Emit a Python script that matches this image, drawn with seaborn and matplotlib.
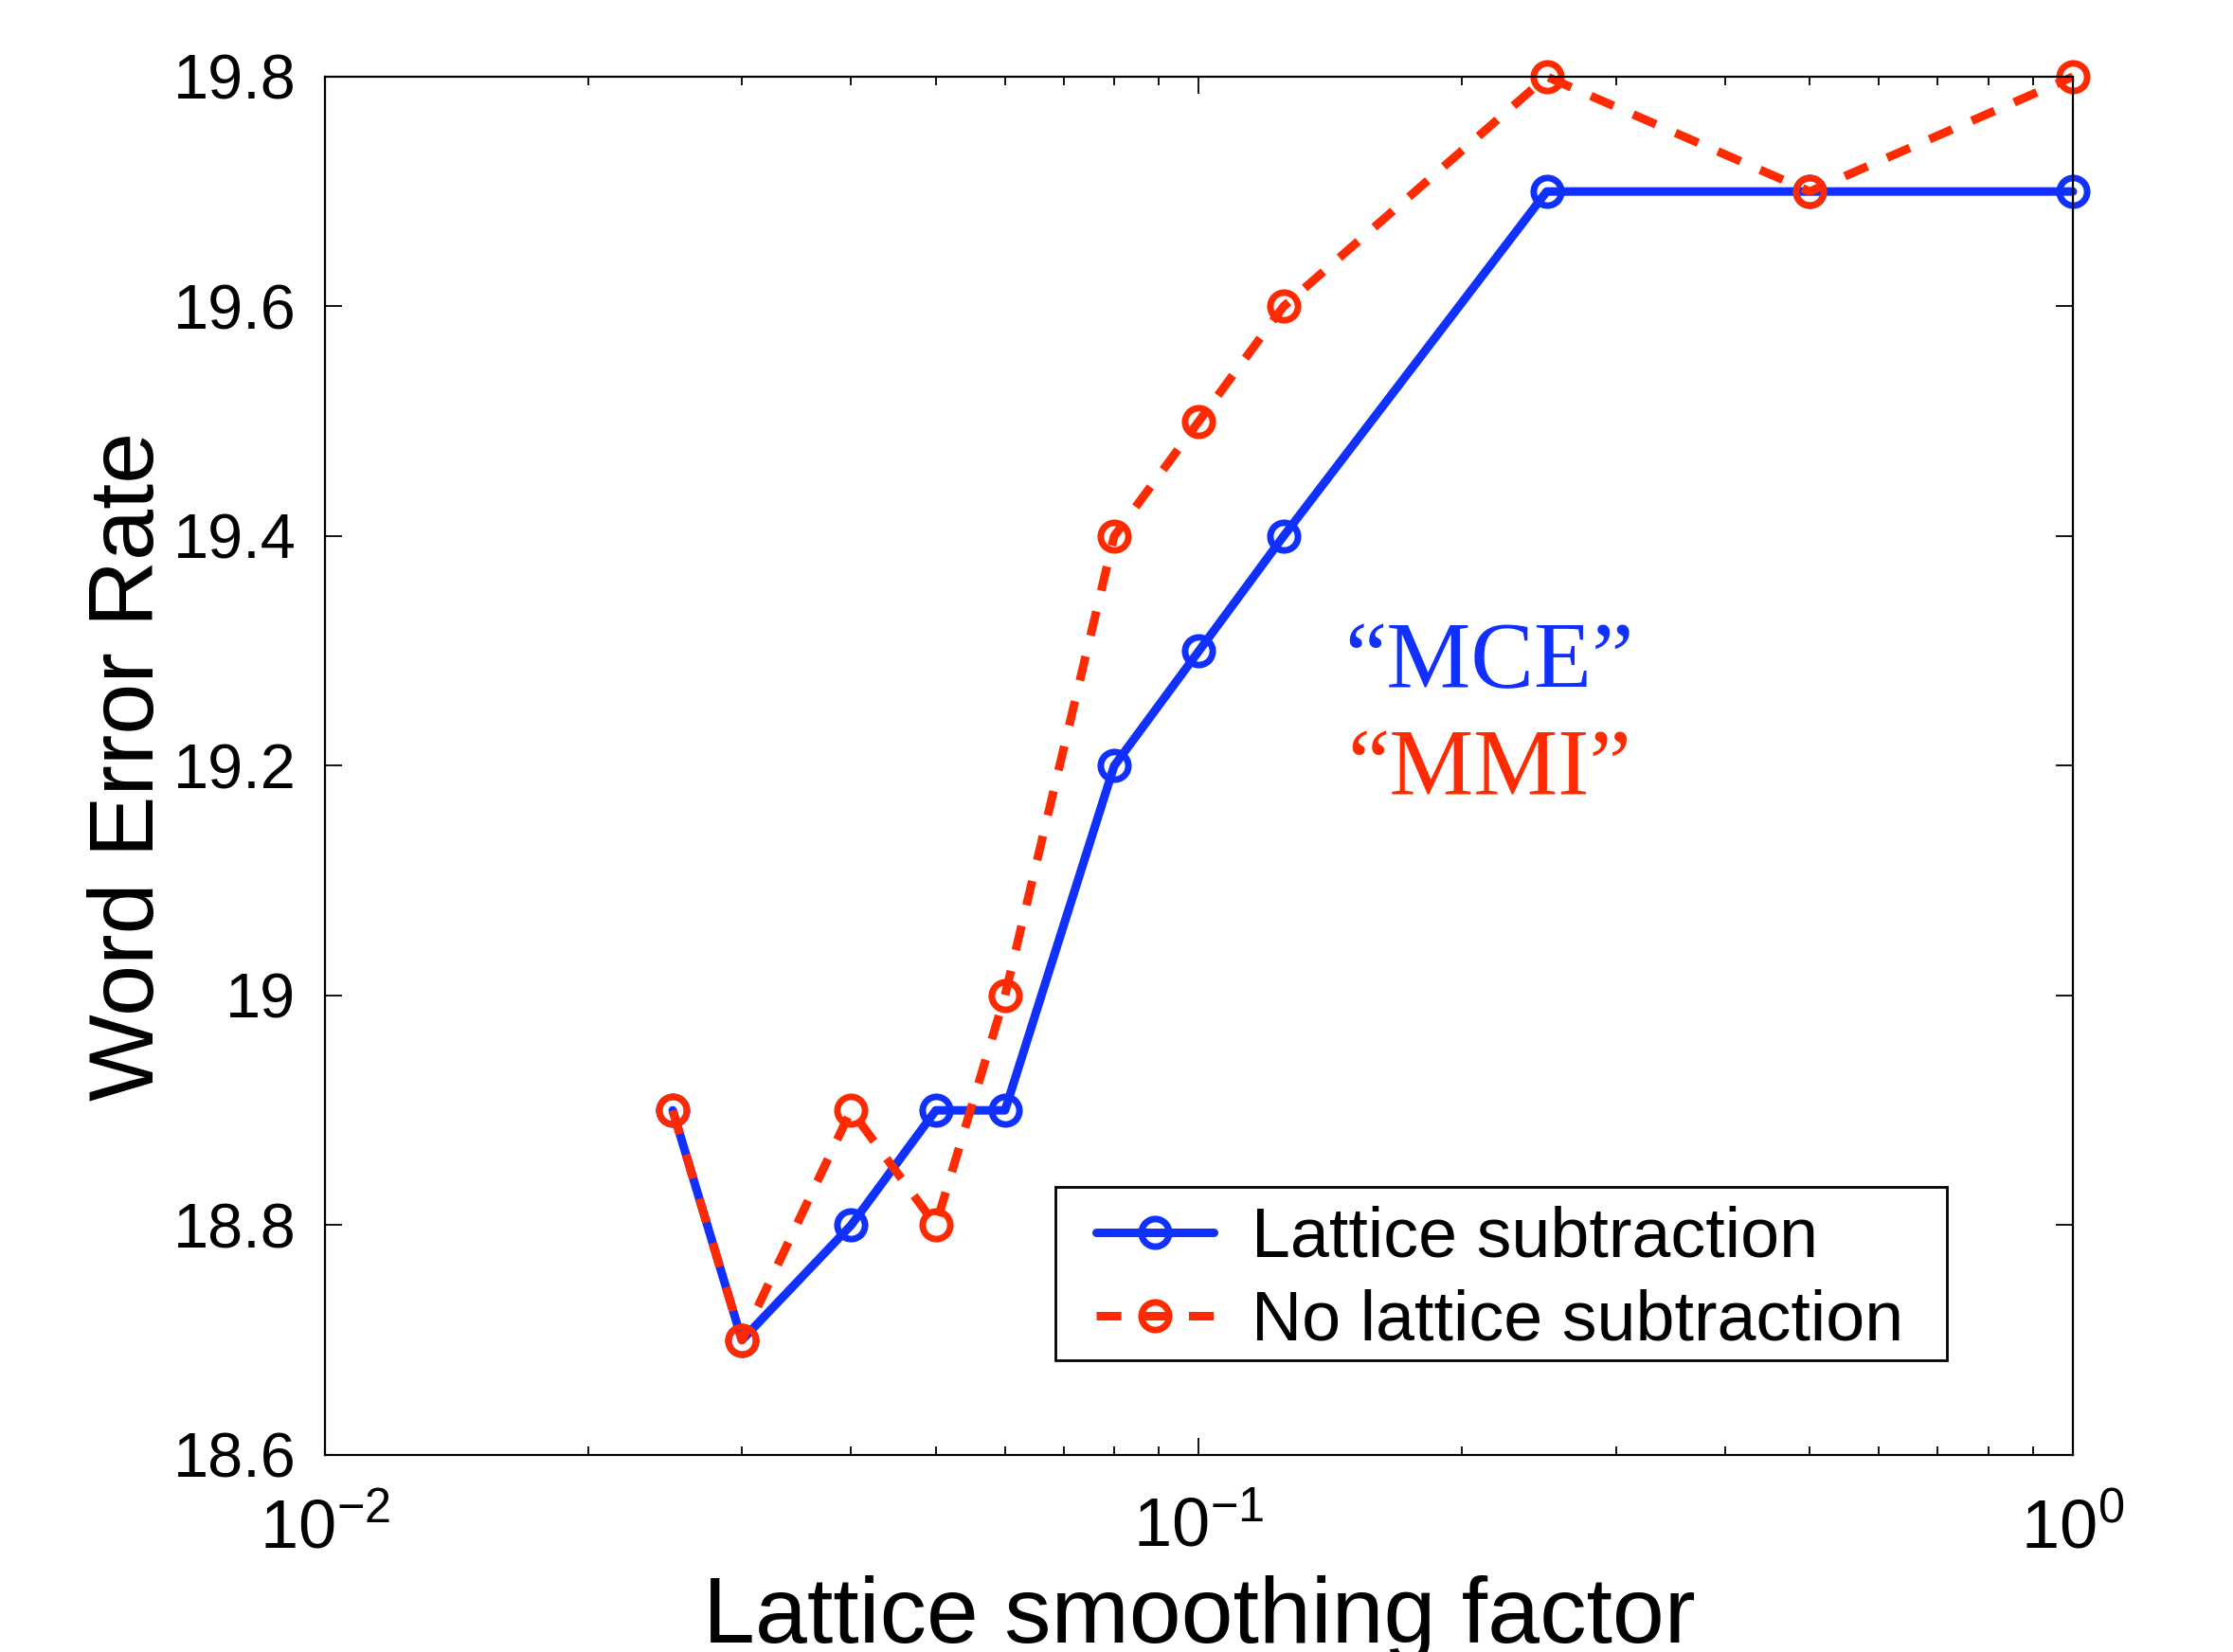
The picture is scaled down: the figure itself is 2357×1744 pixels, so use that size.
#!/usr/bin/env python3
import numpy as np
import matplotlib
matplotlib.use("Agg")
import matplotlib.pyplot as plt
import matplotlib.ticker as mticker
from matplotlib.patches import Rectangle
import seaborn as sns
import pandas as pd

# lattice smoothing factor (log x axis)
SMOOTHING = [0.025, 0.03, 0.04, 0.05, 0.06, 0.08, 0.1, 0.125, 0.25, 0.5, 1.0]
# word error rate [%]
WER_SUB = [18.9, 18.7, 18.8, 18.9, 18.9, 19.2, 19.3, 19.4, 19.7, 19.7, 19.7]
WER_NOSUB = [18.9, 18.7, 18.9, 18.8, 19.0, 19.4, 19.5, 19.6, 19.8, 19.7, 19.8]

SERIES = ["Lattice subtraction", "No lattice subtraction"]
YTICKS = [18.6, 18.8, 19.0, 19.2, 19.4, 19.6, 19.8]

BLUE = "#1030ff"
RED = "#ff2a00"

XLABEL = "Lattice smoothing factor"
YLABEL = "Word Error Rate"


def main():
    sns.set_style("ticks")
    plt.rcParams["font.family"] = ["Liberation Sans", "DejaVu Sans"]
    plt.rcParams["mathtext.fontset"] = "custom"
    plt.rcParams["mathtext.rm"] = "Liberation Sans"
    plt.rcParams["mathtext.it"] = "Liberation Sans"
    plt.rcParams["mathtext.bf"] = "Liberation Sans"
    for key in ["text.color", "axes.labelcolor", "xtick.color",
                "ytick.color", "axes.edgecolor"]:
        plt.rcParams[key] = "black"

    df = pd.DataFrame({
        "x": SMOOTHING * 2,
        "wer": WER_SUB + WER_NOSUB,
        "series": [SERIES[0]] * len(SMOOTHING) + [SERIES[1]] * len(SMOOTHING),
    })

    fig = plt.figure(figsize=(23.57, 17.44), dpi=100)
    ax = fig.add_axes([0.1455, 0.1193, 0.7828, 0.8343])
    ax.set_xscale("log")

    styles = {
        SERIES[0]: dict(color=BLUE, linestyle="-"),
        SERIES[1]: dict(color=RED, linestyle=(0, (2.9, 2.5))),
    }
    for name in SERIES:
        sub = df[df["series"] == name]
        sns.lineplot(
            data=sub, x="x", y="wer", ax=ax, label=name,
            linewidth=6.5, marker="o", markersize=21,
            markerfacecolor="none", markeredgecolor=styles[name]["color"],
            markeredgewidth=5.0, clip_on=False, **styles[name],
        )

    ax.set_xlim(0.01, 1.0)
    ax.set_ylim(18.6, 19.8)
    ax.set_yticks(YTICKS)
    ax.yaxis.set_major_formatter(mticker.FormatStrFormatter("%g"))
    ax.yaxis.set_minor_locator(mticker.NullLocator())
    ax.xaxis.set_major_locator(mticker.LogLocator(base=10))
    ax.xaxis.set_minor_locator(mticker.LogLocator(base=10, subs=np.arange(2, 10)))
    ax.xaxis.set_minor_formatter(mticker.NullFormatter())

    ax.tick_params(which="both", direction="in", top=True, right=True,
                   width=1.3, color="black", labelcolor="black")
    ax.tick_params(which="major", length=13)
    ax.tick_params(which="minor", length=6.5)
    ax.tick_params(axis="y", which="major", labelsize=48, pad=22)
    ax.tick_params(axis="x", which="major", labelsize=52, pad=32)
    for sp in ax.spines.values():
        sp.set_linewidth(1.6)
        sp.set_color("black")

    ax.set_xlabel(XLABEL, fontsize=71)
    ax.set_ylabel(YLABEL, fontsize=70)
    ax.xaxis.set_label_coords(0.5, -0.087)
    ax.yaxis.set_label_coords(-0.087, 0.5)

    serif = ["Liberation Serif", "DejaVu Serif"]
    ax.text(0.666, 0.5735, "\u201cMCE\u201d", transform=ax.transAxes,
            color=BLUE, fontsize=72, family=serif, ha="center", va="center")
    ax.text(0.666, 0.4955, "\u201cMMI\u201d", transform=ax.transAxes,
            color=RED, fontsize=72, family=serif, ha="center", va="center")

    # legend frame drawn separately so the inner padding can match
    ax.add_patch(Rectangle((0.418, 0.069), 0.51, 0.1255, transform=ax.transAxes,
                           facecolor="white", edgecolor="black", linewidth=2.0,
                           zorder=4))
    leg = ax.legend(loc="center left", bbox_to_anchor=(0.4412, 0.127),
                    borderaxespad=0, borderpad=0, fontsize=53,
                    handlelength=1.68, handletextpad=0.55, labelspacing=0.25,
                    frameon=False)
    leg.set_zorder(5)

    fig.savefig("out.png", dpi=100)
    plt.close(fig)


if __name__ == "__main__":
    main()
